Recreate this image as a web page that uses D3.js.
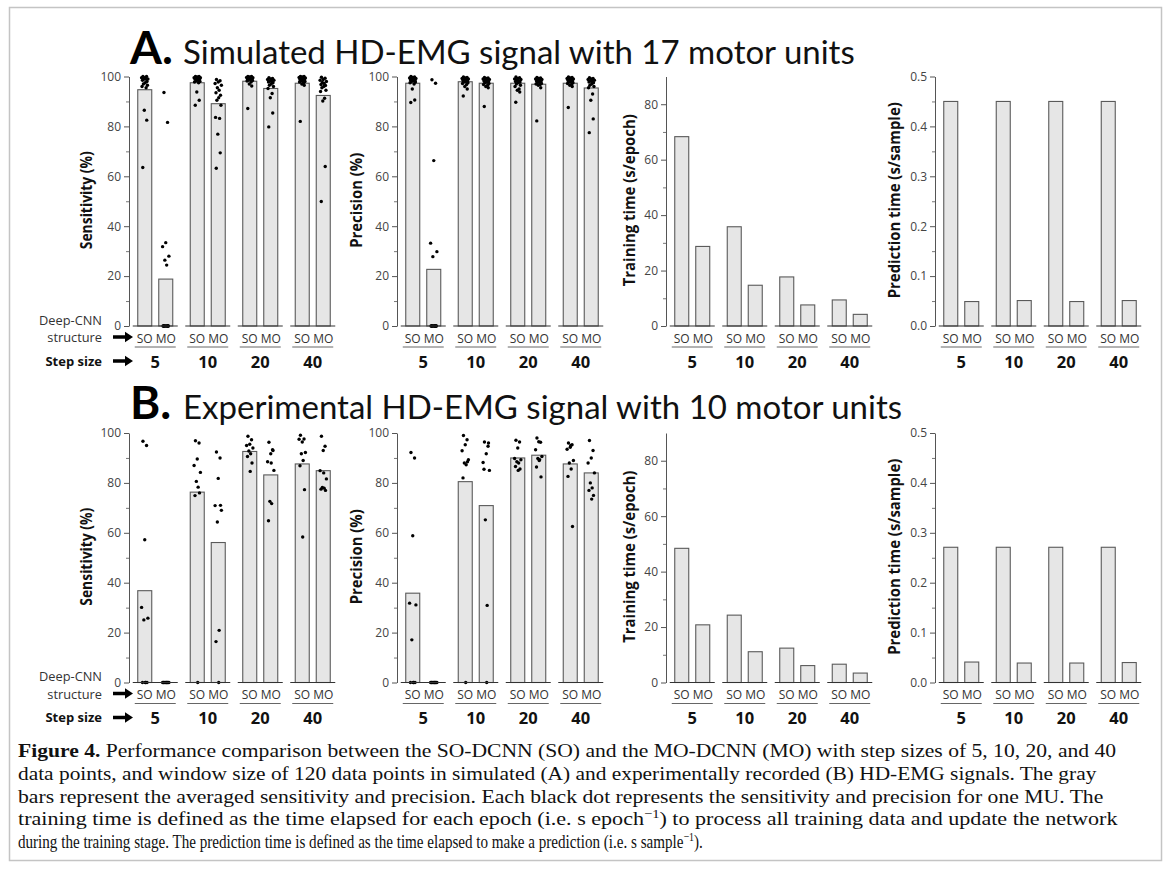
<!DOCTYPE html>
<html><head><meta charset="utf-8">
<script src="https://cdn.jsdelivr.net/npm/d3@7/dist/d3.min.js"></script>
<style>
body{margin:0;background:#fff;}
svg{display:block;}
</style></head>
<body>
<script>
// ---------- DATA ----------
const steps = ["5","10","20","40"];
const structures = ["SO","MO"];

// Panel A (simulated, 17 MUs) - bar means
const sensA_SO = [94.7, 97.5, 98.1, 97.3];
const sensA_MO = [18.8, 89.1, 95.2, 92.4];
const precA_SO = [97.3, 97.9, 97.3, 97.3];
const precA_MO = [22.7, 97.3, 96.9, 95.4];
const trainA_SO = [68.3, 35.8, 17.7, 9.4];
const trainA_MO = [28.7, 14.7, 7.6, 4.2];
const predA_SO = [0.45, 0.45, 0.45, 0.45];
const predA_MO = [0.049, 0.051, 0.049, 0.051];

// Panel A dots (one per MU)
const sensA_dots_SO = [
  [100,100,99.5,99.5,99,99,99,98.5,98,97.5,97,96.5,96,95.5,86.5,82.5,63.5],
  [100,100,99.8,99.5,99.5,99.2,99,99,98.8,98.5,98.2,98,97.8,97.5,93.8,90.5,88.5],
  [100,100,99.8,99.6,99.5,99.4,99.2,99,99,98.8,98.6,98.4,98.2,97.8,97,96.2,87.2],
  [100,100,99.8,99.6,99.4,99.2,99,98.8,98.6,98.4,98.2,98,97.8,97.5,97,96.5,82]
];
const sensA_dots_MO = [
  [93.6,81.6,33.4,31.8,28,26.4,24.4,0,0,0,0,0,0,0,0,0,0],
  [98.8,98.3,97.8,97.2,96.5,95.5,94.5,93.5,92.5,91.5,90.5,88.5,83.6,83.2,76.9,69.4,63.2],
  [99.5,99.2,99,98.8,98.5,98.2,98,97.8,97.5,97,96.5,96,95.2,93.2,91.5,85.4,79.8],
  [99.7,99.3,98.8,98.5,98,97.6,97.2,96.8,96.4,96,95.5,94.5,94,91.3,90.2,63.9,49.9]
];
const precA_dots_SO = [
  [100,99.8,99.6,99.4,99.2,99,98.8,98.6,98.4,98.2,98,97.8,97.5,97,95,90.6,89.6],
  [99.8,99.6,99.4,99.2,99,98.8,98.6,98.4,98.2,98,97.8,97.5,97.2,96.8,96,95,92.2],
  [99.8,99.5,99.2,99,98.8,98.5,98.2,98,97.8,97.5,97,96.5,96,95,94.5,93.8,89.7],
  [99.8,99.6,99.4,99.2,99,98.8,98.6,98.4,98.2,98,97.8,97.5,97.2,96.8,96.5,96,87.6]
];
const precA_dots_MO = [
  [98.7,97.3,66.3,33.2,29.8,27.8,0,0,0,0,0,0,0,0,0,0,0],
  [99.6,99.4,99.2,99,98.8,98.6,98.4,98.2,98,97.8,97.5,97.2,96.8,96.5,96,95.5,88],
  [99.6,99.4,99.2,99,98.8,98.6,98.4,98.2,98,97.8,97.5,97.2,97,96.8,96.5,95.5,82.2],
  [99.5,99.2,99,98.8,98.5,98.2,98,97.8,97.5,97,96.5,96,95.5,93,90.5,83,77.5]
];

// Panel B (experimental, 10 MUs) - bar means
const sensB_SO = [36.8, 76.3, 92.6, 87.6];
const sensB_MO = [0, 56.1, 83.2, 84.9];
const precB_SO = [35.8, 80.5, 90.0, 87.6];
const precB_MO = [0, 70.9, 91.1, 84.0];
const trainB_SO = [48.4, 24.3, 12.4, 6.6];
const trainB_MO = [20.8, 11.1, 6.1, 3.4];
const predB_SO = [0.271, 0.271, 0.271, 0.271];
const predB_MO = [0.041, 0.039, 0.039, 0.040];

const sensB_dots_SO = [
  [96.7,95,57.2,30.1,25.8,25.1,0,0,0,0],
  [96.9,96,89.6,87,84.2,80.6,78.3,74.9,76,0],
  [98.7,97.3,95.5,95,94,92.8,91.7,90.6,88,84.6],
  [99.1,97.6,96.4,97.5,92.2,91.7,89,86.9,77.3,58.3]
];
const sensB_dots_MO = [
  [0,0,0,0,0,0,0,0,0,0],
  [92.4,90,81.8,70.9,69,64.3,20.9,16.4,71,0],
  [96.3,93.3,91.7,88.5,85,72.6,71.7,64.8,93,88],
  [98.7,94.7,93,84.9,81.6,78.2,77.9,77.5,77,84]
];
const precB_dots_SO = [
  [92.2,90,58.8,31.8,31.1,17.1,0,0,0,0],
  [99,97.3,95.3,92.9,89.3,88,87.3,82,88.5,0],
  [97.1,96.4,94,89.8,89.3,88.5,88,86.6,85.6,85],
  [96,95.3,94.3,93.5,89,88,85.6,82.6,62.5,95]
];
const precB_dots_MO = [
  [0,0,0,0,0,0,0,0,0,0],
  [96.4,94.7,91.7,88.2,85,65.2,30.9,85.5,96,0],
  [98,96.3,96.5,93.3,90.6,89.8,89.3,86.4,82.4,89],
  [97,93,90,88,84,80,78,77,75,73.5]
];

const pctTicks = [0,20,40,60,80,100];
const pctMinor = [10,30,50,70,90];
const trainTicks = [0,20,40,60,80];
const trainMinor = [10,30,50,70];
const predTicks = [0,0.1,0.2,0.3,0.4,0.5];
const predMinor = [0.05,0.15,0.25,0.35,0.45];

const captionLines = [
  [["b","Figure 4."],["n"," Performance comparison between the SO-DCNN (SO) and the MO-DCNN (MO) with step sizes of 5, 10, 20, and 40"]],
  [["n","data points, and window size of 120 data points in simulated (A) and experimentally recorded (B) HD-EMG signals. The gray"]],
  [["n","bars represent the averaged sensitivity and precision. Each black dot represents the sensitivity and precision for one MU. The"]],
  [["n","training time is defined as the time elapsed for each epoch (i.e. s epoch"],["s","\u22121"],["n",") to process all training data and update the network"]],
  [["n","during the training stage. The prediction time is defined as the time elapsed to make a prediction (i.e. s sample"],["s","\u22121"],["n",")."]]
];
const captionEnds = [1117, 1097, 1104, 1118, 703];

// ---------- LAYOUT ----------
const W = 1171, H = 885;
const FONT = "'Open Sans', Lato, sans-serif";
const svg = d3.select("body").append("svg").attr("width", W).attr("height", H)
  .style("font-family", FONT);

svg.append("rect").attr("x",9.5).attr("y",7.5).attr("width",1152).attr("height",853)
  .attr("fill","none").attr("stroke","#c4c4c4").attr("stroke-width",1.5);

const axisXs = [129, 397, 666, 935];
const groupW = 52.5;
const jitter = [-2,2,0,-3.5,3.5,-1,1,-2.5,2.5,0.5,-1.5,3,-3,1.5,-0.5,2.2,-2.2];

function arrow(g, x1, x2, y){
  g.append("path")
    .attr("d", `M${x1},${y-1.7} L${x2-8},${y-1.7} L${x2-8},${y-5.2} L${x2},${y} L${x2-8},${y+5.2} L${x2-8},${y+1.7} L${x1},${y+1.7} Z`)
    .attr("fill","#000");
}

function drawChart(opt){
  const g = svg.append("g");
  const ax = opt.axisX;
  const y = d3.scaleLinear().domain(opt.domain).range([opt.y0, opt.y0 - opt.h]);
  const xG = d3.scaleBand().domain(steps).range([ax, ax + 4*groupW]).paddingInner(0).paddingOuter(0);
  const xS = d3.scaleBand().domain(structures).range([8.75, 43.75]).paddingInner(1/3).paddingOuter(0);

  const axMajor = d3.axisLeft(y).tickValues(opt.ticks).tickSize(5).tickSizeOuter(0).tickPadding(3)
    .tickFormat(opt.fmt);
  const ga = g.append("g").attr("transform", `translate(${ax},0)`).call(axMajor);
  ga.select(".domain").attr("stroke","#555").attr("stroke-width",1);
  ga.selectAll(".tick line").attr("stroke","#555");
  ga.selectAll(".tick text").attr("fill","#444").style("font-size","12px").style("font-family",FONT);
  const axMinor = d3.axisLeft(y).tickValues(opt.minor).tickSize(3).tickSizeOuter(0).tickFormat("");
  const gm = g.append("g").attr("transform", `translate(${ax},0)`).call(axMinor);
  gm.select(".domain").remove();
  gm.selectAll(".tick line").attr("stroke","#777");

  g.append("text")
    .attr("transform", `translate(${ax - opt.labelOff},${opt.y0 - opt.h/2 - 1}) rotate(-90)`)
    .attr("text-anchor","middle").attr("dy","0.35em")
    .style("font-weight","bold").style("font-size","15.5px").attr("fill","#111")
    .attr("textLength", opt.labelLen).attr("lengthAdjust","spacingAndGlyphs")
    .text(opt.label);

  steps.forEach((s, i) => {
    const gx = xG(s);
    const cx = gx + xG.bandwidth()/2;
    structures.forEach(st => {
      const v = (st === "SO" ? opt.so : opt.mo)[i];
      const bx = gx + xS(st);
      g.append("rect").attr("x", bx).attr("y", y(v)).attr("width", xS.bandwidth())
        .attr("height", Math.max(0, opt.y0 - y(v)))
        .attr("fill","#e6e6e6").attr("stroke","#5a5a5a").attr("stroke-width",1.1);
      const dots = opt.dots ? (st === "SO" ? opt.dots[0] : opt.dots[1])[i] : null;
      if (dots){
        const bcx = bx + xS.bandwidth()/2;
        g.selectAll(null).data(dots).enter().append("circle")
          .attr("cx", (d,k) => bcx + jitter[k % jitter.length]*0.9)
          .attr("cy", d => y(d))
          .attr("r", 1.7).attr("fill","#000");
      }
      g.append("text").attr("x", bx + xS.bandwidth()/2).attr("y", opt.y0 + 16.5)
        .attr("text-anchor","middle").style("font-size","12px").attr("fill","#333").text(st);
    });
    g.append("line").attr("x1", cx - 22.5).attr("x2", cx + 22.5).attr("y1", opt.y0).attr("y2", opt.y0)
      .attr("stroke","#333").attr("stroke-width",1.2);
    g.append("line").attr("x1", cx - 20.5).attr("x2", cx + 20.5).attr("y1", opt.y0 + 21).attr("y2", opt.y0 + 21)
      .attr("stroke","#666").attr("stroke-width",1);
    g.append("text").attr("x", cx).attr("y", opt.y0 + 41.5).attr("text-anchor","middle")
      .style("font-weight","bold").style("font-size","16.5px").attr("fill","#111").text(s);
  });

  if (opt.left){
    g.append("text").attr("x",102).attr("y",opt.y0-1.5).attr("text-anchor","end")
      .style("font-size","12.8px").attr("fill","#333").text("Deep-CNN");
    g.append("text").attr("x",102).attr("y",opt.y0+16).attr("text-anchor","end")
      .style("font-size","12.8px").attr("fill","#333").text("structure");
    arrow(g, 113, 133, opt.y0 + 11);
    g.append("text").attr("x",102).attr("y",opt.y0+39.5).attr("text-anchor","end")
      .style("font-size","13px").style("font-weight","bold").attr("fill","#111").text("Step size");
    arrow(g, 113, 133, opt.y0 + 35);
  }
}

function panel(y0, letter, title, tY, d){
  const h = 249.5;
  svg.append("text").attr("x",130).attr("y",tY).style("font-family","Lato, sans-serif")
    .style("font-weight","bold").style("font-size","46px").attr("fill","#000").text(letter);
  svg.append("text").attr("x",183).attr("y",tY).style("font-family","Lato, sans-serif")
    .style("font-size","33px").attr("fill","#111").text(title);
  drawChart({axisX:axisXs[0], y0, h, domain:[0,100], ticks:pctTicks, minor:pctMinor, fmt:d3.format("d"),
    so:d.sensSO, mo:d.sensMO, dots:[d.sensDSO, d.sensDMO], label:"Sensitivity (%)", labelLen:98, labelOff:42, left:true});
  drawChart({axisX:axisXs[1], y0, h, domain:[0,100], ticks:pctTicks, minor:pctMinor, fmt:d3.format("d"),
    so:d.precSO, mo:d.precMO, dots:[d.precDSO, d.precDMO], label:"Precision (%)", labelLen:95, labelOff:40});
  drawChart({axisX:axisXs[2], y0, h, domain:[0,90], ticks:trainTicks, minor:trainMinor, fmt:d3.format("d"),
    so:d.trSO, mo:d.trMO, dots:null, label:"Training time (s/epoch)", labelLen:172, labelOff:36});
  drawChart({axisX:axisXs[3], y0, h, domain:[0,0.5], ticks:predTicks, minor:predMinor, fmt:d3.format(".1f"),
    so:d.prSO, mo:d.prMO, dots:null, label:"Prediction time (s/sample)", labelLen:196, labelOff:40});
}

panel(326, "A.", "Simulated HD-EMG signal with 17 motor units", 64, {
  sensSO:sensA_SO, sensMO:sensA_MO, sensDSO:sensA_dots_SO, sensDMO:sensA_dots_MO,
  precSO:precA_SO, precMO:precA_MO, precDSO:precA_dots_SO, precDMO:precA_dots_MO,
  trSO:trainA_SO, trMO:trainA_MO, prSO:predA_SO, prMO:predA_MO});
panel(682.5, "B.", "Experimental HD-EMG signal with 10 motor units", 419, {
  sensSO:sensB_SO, sensMO:sensB_MO, sensDSO:sensB_dots_SO, sensDMO:sensB_dots_MO,
  precSO:precB_SO, precMO:precB_MO, precDSO:precB_dots_SO, precDMO:precB_dots_MO,
  trSO:trainB_SO, trMO:trainB_MO, prSO:predB_SO, prMO:predB_MO});

// ---------- CAPTION (each line scaled horizontally to its measured extent) ----------
const capX = 18;
captionLines.forEach((line, i) => {
  const g = svg.append("g");
  const t = g.append("text").attr("x",0).attr("y",0)
    .style("font-family","'Liberation Serif', 'Times New Roman', serif").style("font-size","19px").attr("fill","#111");
  let sup = false;
  line.forEach(([k, s]) => {
    const ts = t.append("tspan").text(s);
    if (k === "b") ts.style("font-weight","bold");
    if (k === "s") { ts.style("font-size","12.5px").attr("dy", -7); sup = true; }
    else if (sup) { ts.attr("dy", 7); sup = false; }
  });
  const nat = t.node().getComputedTextLength();
  const sx = (captionEnds[i] - capX) / nat;
  g.attr("transform", `translate(${capX},${757 + i*22.75}) scale(${sx},1)`);
});
</script>
</body></html>
